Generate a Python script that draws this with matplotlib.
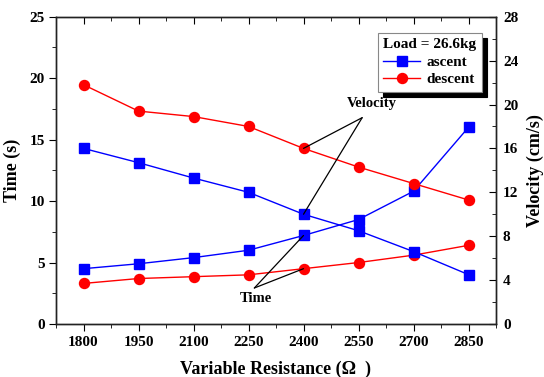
import matplotlib
matplotlib.use("Agg")
import matplotlib.pyplot as plt
from matplotlib.ticker import MultipleLocator

plt.rcParams['font.family'] = ['Liberation Serif', 'DejaVu Serif']
plt.rcParams['font.weight'] = 'bold'

resistance = [1800, 1950, 2100, 2250, 2400, 2550, 2700, 2850]
time_ascent = [4.5, 4.9, 5.4, 6.0, 7.2, 8.5, 10.8, 16.0]
time_descent = [3.3, 3.7, 3.85, 4.0, 4.5, 5.0, 5.6, 6.4]
vel_ascent = [16.0, 14.7, 13.3, 12.0, 10.0, 8.5, 6.6, 4.5]
vel_descent = [21.8, 19.4, 18.9, 18.0, 16.0, 14.3, 12.8, 11.3]
x_ticks = [1800, 1950, 2100, 2250, 2400, 2550, 2700, 2850]

fig = plt.figure(figsize=(5.44, 3.77), dpi=100)
ax = fig.add_axes([56/544, 1-324/377, 440/544, (324-16.7)/377])
ax2 = ax.twinx()

blue = '#0000ff'
red = '#ff0000'
la, = ax.plot(resistance, time_ascent, '-s', color=blue, lw=1, ms=6.5, zorder=3)
ld, = ax.plot(resistance, time_descent, '-o', color=red, lw=1, ms=7.2, zorder=3)
ax2.plot(resistance, vel_ascent, '-s', color=blue, lw=1, ms=6.5, zorder=3)
ax2.plot(resistance, vel_descent, '-o', color=red, lw=1, ms=7.2, zorder=3)

ax.set_xlim(1725, 2925)
ax.set_ylim(0, 25)
ax2.set_ylim(0, 28)
ax.set_xticks(x_ticks)
ax.xaxis.set_minor_locator(MultipleLocator(75))
ax.yaxis.set_major_locator(MultipleLocator(5))
ax.yaxis.set_minor_locator(MultipleLocator(2.5))
ax2.yaxis.set_major_locator(MultipleLocator(4))
ax2.yaxis.set_minor_locator(MultipleLocator(2))

ax.tick_params(axis='x', which='both', direction='out', top=True, labelsize=11, pad=4)
ax.tick_params(axis='x', which='major', length=5)
ax.tick_params(axis='x', which='minor', length=3)
ax.tick_params(axis='y', which='both', direction='out', labelsize=11, pad=3)
ax.tick_params(axis='y', which='major', length=5)
ax.tick_params(axis='y', which='minor', length=3)
ax2.tick_params(axis='y', which='both', direction='in', labelsize=11, pad=5)
ax2.tick_params(axis='y', which='major', length=5)
ax2.tick_params(axis='y', which='minor', length=3)
for t in ax.xaxis.get_major_ticks() + ax.xaxis.get_minor_ticks():
    t.tick2line.set_marker(3)  # top ticks point inward
for lab in ax.get_xticklabels() + ax.get_yticklabels() + ax2.get_yticklabels():
    lab.set_fontweight('bold')

for a in (ax, ax2):
    for s in a.spines.values():
        s.set_linewidth(1.0)
        s.set_color('#222222')

ax.set_xlabel('Variable Resistance (Ω  )', fontsize=13, fontweight='bold', labelpad=8)
ax.set_ylabel('Time (s)', fontsize=13, fontweight='bold', labelpad=6)
ax2.set_ylabel('Velocity (cm/s)', fontsize=13, fontweight='bold', labelpad=6)

arrow = dict(arrowstyle='-', color='black', lw=0.9, shrinkA=0, shrinkB=0)
v_vertex = (2560, 18.8)
ax2.annotate('', xy=(resistance[4], vel_descent[4]), xytext=v_vertex, arrowprops=arrow)
ax2.annotate('', xy=(resistance[4], vel_ascent[4]), xytext=v_vertex, arrowprops=arrow)
ax2.text(2585, 20.05, 'Velocity', ha='center', va='center', fontsize=10.5, fontweight='bold')
t_vertex = (2266, 2.93)
ax.annotate('', xy=(resistance[4], time_ascent[4]), xytext=t_vertex, arrowprops=arrow)
ax.annotate('', xy=(resistance[4], time_descent[4]), xytext=t_vertex, arrowprops=arrow)
ax.text(2269, 2.1, 'Time', ha='center', va='center', fontsize=10.5, fontweight='bold')

leg = ax2.legend([la, ld], ['ascent', 'descent'], title='Load = 26.6kg',
                 loc='upper right', bbox_to_anchor=(0.968, 0.947), borderaxespad=0,
                 fancybox=False, shadow={'color': 'black', 'alpha': 1.0, 'ox': 3.5, 'oy': -3.5},
                 prop={'weight': 'bold', 'size': 11},
                 title_fontproperties={'weight': 'bold', 'size': 11},
                 handlelength=2.4, handletextpad=0.4, borderpad=0.35,
                 labelspacing=0.25, framealpha=1, edgecolor='#888888')
leg.get_frame().set_linewidth(0.8)
leg._legend_box.align = 'left'

fig.savefig('out.png', dpi=100)
